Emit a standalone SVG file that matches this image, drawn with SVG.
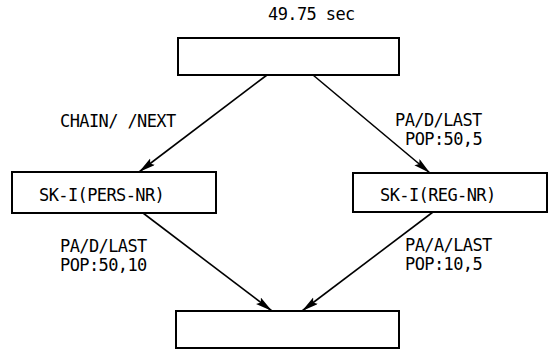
<svg xmlns="http://www.w3.org/2000/svg" width="553" height="351" viewBox="0 0 553 351">
<style>
.box{fill:#fff;stroke:#000;stroke-width:2}
.t{font-family:"DejaVu Sans Mono","Liberation Mono",monospace;font-size:17px;letter-spacing:-0.6px;fill:#000}
.c{stroke:#000;stroke-width:1.6;fill:none;marker-end:url(#ah)}
</style>
<defs>
<marker id="ah" markerUnits="userSpaceOnUse" markerWidth="20" markerHeight="10" refX="17" refY="4" orient="auto">
<path d="M0,0 L17,4 L0,8 L3,4 Z" fill="#000"/>
</marker>
</defs>
<rect width="553" height="351" fill="#fff"/>
<g id="connectors">
<line class="c" x1="267" y1="75" x2="139" y2="172"/>
<line class="c" x1="313" y1="75" x2="430" y2="173"/>
<line class="c" x1="143" y1="213" x2="272" y2="311"/>
<line class="c" x1="433" y1="212" x2="302" y2="311"/>
<text class="t" x="60" y="127">CHAIN/ /NEXT</text>
<text class="t" x="395" y="126">PA/D/LAST</text>
<text class="t" x="405" y="145">POP:50,5</text>
<text class="t" x="60" y="252">PA/D/LAST</text>
<text class="t" x="60" y="271">POP:50,10</text>
<text class="t" x="405" y="251">PA/A/LAST</text>
<text class="t" x="405" y="270">POP:10,5</text>
</g>
<g id="top">
<text class="t" x="268" y="20">49.75 sec</text>
<rect class="box" x="178" y="38" width="221" height="37"/>
</g>
<g id="pers">
<rect class="box" x="12" y="172" width="204" height="41"/>
<text class="t" x="39" y="201">SK-I(PERS-NR)</text>
</g>
<g id="reg">
<rect class="box" x="353" y="173" width="194" height="39"/>
<text class="t" x="380" y="201">SK-I(REG-NR)</text>
</g>
<g id="bottom">
<rect class="box" x="176" y="311" width="223" height="37"/>
</g>
</svg>
